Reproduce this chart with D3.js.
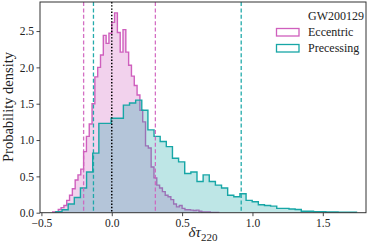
<!DOCTYPE html>
<html>
<head>
<meta charset="utf-8">
<script src="https://cdn.jsdelivr.net/npm/d3@7"></script>
<style>
body { margin: 0; background: #fff; }
text { font-family: "Liberation Serif", "DejaVu Serif", serif; fill: #222; }
</style>
</head>
<body>
<svg width="373" height="249"></svg>
<script>
// histogram densities
var eccStart = -0.42, eccWidth = 0.02;
var eccentric = [0.01, 0.015, 0.045, 0.07, 0.10, 0.17, 0.24, 0.33, 0.45, 0.52,
	0.60, 0.84, 1.05, 1.22, 1.50, 1.87, 2.00, 2.17, 2.44, 2.33,
	2.47, 2.62, 2.75, 2.48, 2.21, 2.52, 2.21, 2.03, 1.88, 1.75,
	1.62, 1.41, 1.25, 0.92, 0.89, 0.63, 0.48, 0.38, 0.34, 0.29,
	0.24, 0.22, 0.18, 0.12, 0.08, 0.10, 0.06, 0.04, 0.04, 0.035,
	0.03, 0.035, 0.02, 0.01, 0.01, 0.01, 0.005, 0.005, 0.005];

var precStart = -0.397, precWidth = 0.0436;
var precessing = [0.015, 0.04, 0.12, 0.21, 0.34, 0.56, 0.82, 1.23, 1.23, 1.30,
	1.30, 1.48, 1.51, 1.55, 1.41, 1.14, 1.05, 0.98, 0.91, 0.75,
	0.70, 0.54, 0.56, 0.43, 0.52, 0.43, 0.38, 0.34, 0.24, 0.22,
	0.26, 0.17, 0.15, 0.11, 0.10, 0.09, 0.06, 0.06, 0.05, 0.045,
	0.02, 0.02, 0.015, 0.015, 0.01, 0.01, 0.008, 0.008, 0.006];

// 90% bounds and reference value
var eccBounds = [-0.20, 0.31];
var precBounds = [-0.13, 0.92];
var refValue = 0.0;

var xTicks = [-0.5, 0.0, 0.5, 1.0, 1.5];
var yTicks = [0.0, 0.5, 1.0, 1.5, 2.0, 2.5];

var eventName = "GW200129";
var seriesNames = ["Eccentric", "Precessing"];
var pink = "#cf5fbd", teal = "#17a6a6";

var layout = {left: 40, right: 366, top: 2, bottom: 212.7};

var svg = d3.select("svg");

var xScale = d3.scaleLinear()
				.domain([-0.51, 1.807])
				.range([layout.left, layout.right]);
var yScale = d3.scaleLinear()
				.domain([0, 2.9])
				.range([layout.bottom, layout.top]);

svg.append("clipPath")
	.attr("id", "plotclip")
	.append("rect")
	.attr("x", layout.left)
	.attr("y", layout.top)
	.attr("width", layout.right - layout.left)
	.attr("height", layout.bottom - layout.top);

var plot = svg.append("g").attr("clip-path", "url(#plotclip)");

// turn bins into step points, down to zero at both ends
function stepPoints(start, width, vals){
	var pts = [[start, 0]];
	vals.forEach(function(v, i){
		pts.push([start + i*width, v]);
	});
	pts.push([start + vals.length*width, 0]);
	return pts;
}

var stepLine = d3.line()
				.x(function(d){ return xScale(d[0]); })
				.y(function(d){ return yScale(d[1]); })
				.curve(d3.curveStepAfter);

var series = [
	{name: seriesNames[0], color: pink, pts: stepPoints(eccStart, eccWidth, eccentric)},
	{name: seriesNames[1], color: teal, pts: stepPoints(precStart, precWidth, precessing)}
];

series.forEach(function(s){
	plot.append("path")
		.attr("d", stepLine(s.pts))
		.attr("fill", s.color)
		.attr("fill-opacity", 0.28)
		.attr("stroke", "none");
	plot.append("path")
		.attr("d", stepLine(s.pts))
		.attr("fill", "none")
		.attr("stroke", s.color)
		.attr("stroke-width", 1.4)
		.attr("stroke-linejoin", "miter");
});

// credible interval lines
var vlines = [];
eccBounds.forEach(function(v){ vlines.push({v: v, color: pink, dash: "4,2.4", op: 0.9, w: 1.3}); });
precBounds.forEach(function(v){ vlines.push({v: v, color: teal, dash: "4,2.4", op: 0.95, w: 1.3}); });
vlines.push({v: refValue, color: "#000", dash: "1.4,1.8", op: 1, w: 1.5});

plot.selectAll("line.vl")
	.data(vlines)
	.enter().append("line")
	.attr("class", "vl")
	.attr("x1", function(d){ return xScale(d.v); })
	.attr("x2", function(d){ return xScale(d.v); })
	.attr("y1", layout.top)
	.attr("y2", layout.bottom)
	.attr("stroke", function(d){ return d.color; })
	.attr("stroke-opacity", function(d){ return d.op; })
	.attr("stroke-width", function(d){ return d.w; })
	.attr("stroke-dasharray", function(d){ return d.dash; });

// axes
var fmt = function(d){ return d3.format(".1f")(d).replace("-", "\u2212"); };

var xAxis = svg.append("g")
	.attr("transform", "translate(0," + layout.bottom + ")")
	.call(d3.axisBottom(xScale).tickValues(xTicks).tickFormat(fmt).tickSize(3.5).tickPadding(3));
var yAxis = svg.append("g")
	.attr("transform", "translate(" + layout.left + ",0)")
	.call(d3.axisLeft(yScale).tickValues(yTicks).tickFormat(fmt).tickSize(3.5).tickPadding(2.5));

[xAxis, yAxis].forEach(function(a){
	a.select(".domain").remove();
	a.selectAll(".tick line").attr("stroke", "#333").attr("stroke-width", 0.9);
	a.selectAll(".tick text").attr("font-size", 11.5).attr("fill", "#222")
		.style("font-family", "'Liberation Serif', serif");
});

svg.append("rect")
	.attr("x", layout.left)
	.attr("y", layout.top)
	.attr("width", layout.right - layout.left)
	.attr("height", layout.bottom - layout.top)
	.attr("fill", "none")
	.attr("stroke", "#333")
	.attr("stroke-width", 1);

// axis labels
svg.append("text")
	.attr("transform", "translate(13,107) rotate(-90)")
	.attr("text-anchor", "middle")
	.attr("font-size", 14.5)
	.text("Probability density");

var xl = svg.append("text")
	.attr("x", (layout.left + layout.right) / 2)
	.attr("y", 237)
	.attr("text-anchor", "middle")
	.attr("font-size", 15);
xl.append("tspan").attr("font-style", "italic").text("\u03b4\u03c4");
xl.append("tspan").attr("font-size", 11).attr("dy", 4).text("220");

// legend
var legend = svg.append("g").attr("transform", "translate(276,0)");
legend.append("text")
	.attr("x", 32)
	.attr("y", 20)
	.attr("font-size", 12)
	.text(eventName);

var items = legend.selectAll("g.item")
	.data(series)
	.enter().append("g")
	.attr("class", "item")
	.attr("transform", function(d, i){ return "translate(0," + (28.5 + i*16) + ")"; });
items.append("rect")
	.attr("x", 0.5)
	.attr("y", 0)
	.attr("width", 22.5)
	.attr("height", 7.5)
	.attr("fill", "#fff")
	.attr("stroke", function(d){ return d.color; })
	.attr("stroke-width", 1.3);
items.append("text")
	.attr("x", 32)
	.attr("y", 7.5)
	.attr("font-size", 12)
	.text(function(d){ return d.name; });
</script>
</body>
</html>
